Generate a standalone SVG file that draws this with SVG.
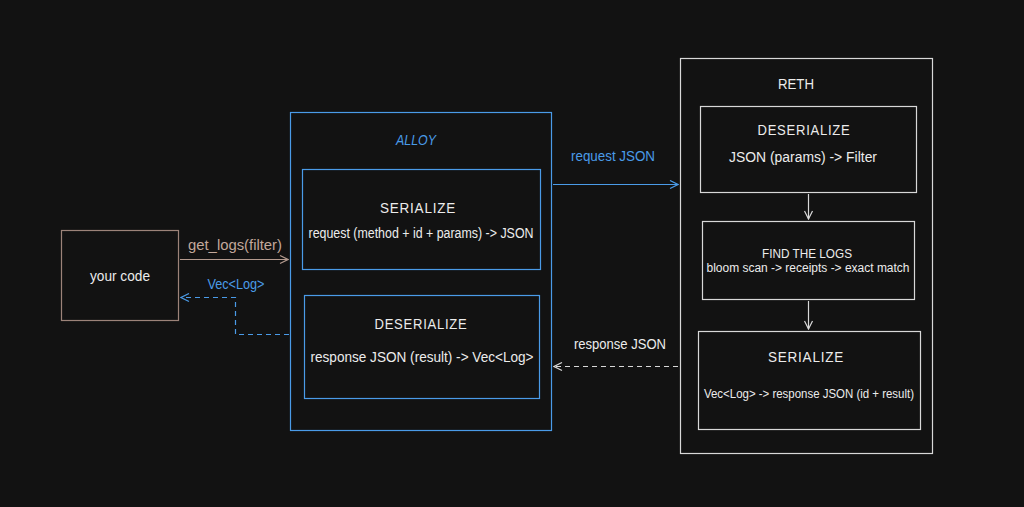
<svg xmlns="http://www.w3.org/2000/svg" width="1024" height="507" viewBox="0 0 1024 507">
<style>
.t{font-family:"Liberation Sans",sans-serif;font-size:14px;fill:#ececec;text-anchor:middle}
.h{font-size:14px;letter-spacing:0.8px}
.s{font-size:12px}
.blue{fill:#4a9be8}
.tan{fill:#c2a89b}
.box{fill:#121212;stroke-width:1.2}
.bb{stroke:#4a9be8}
.wb{stroke:#d8d8d8}
.brb{stroke:#9c8379}
</style>
<defs>
<marker id="ab" markerWidth="10" markerHeight="10" refX="9" refY="5" orient="auto" markerUnits="userSpaceOnUse"><path d="M1,1 L9,5 L1,9" fill="none" stroke="#4a9be8" stroke-width="1.2"/></marker>
<marker id="aw" markerWidth="10" markerHeight="10" refX="9" refY="5" orient="auto" markerUnits="userSpaceOnUse"><path d="M1,1 L9,5 L1,9" fill="none" stroke="#d8d8d8" stroke-width="1.2"/></marker>
<marker id="at" markerWidth="10" markerHeight="10" refX="9" refY="5" orient="auto" markerUnits="userSpaceOnUse"><path d="M1,1 L9,5 L1,9" fill="none" stroke="#b39a8e" stroke-width="1.2"/></marker>
</defs>
<rect width="1024" height="507" fill="#121212"/>

<g id="your-code">
<rect class="box brb" x="61.5" y="230.5" width="117" height="90"/>
<text class="t" x="120" y="281" textLength="60" lengthAdjust="spacingAndGlyphs">your code</text>
</g>

<g id="alloy">
<rect class="box bb" x="290.5" y="112.5" width="261" height="318" stroke-width="1.5"/>
<text class="t blue" x="416" y="145" font-style="italic" textLength="40" lengthAdjust="spacingAndGlyphs">ALLOY</text>
</g>
<g id="alloy-serialize">
<rect class="box bb" x="302.5" y="169.5" width="238" height="100"/>
<text class="t h" x="418" y="213" textLength="76" lengthAdjust="spacingAndGlyphs">SERIALIZE</text>
<text class="t" x="421" y="238" textLength="225" lengthAdjust="spacingAndGlyphs">request (method + id + params) -&gt; JSON</text>
</g>
<g id="alloy-deserialize">
<rect class="box bb" x="304.5" y="295.5" width="235" height="103"/>
<text class="t h" x="421" y="329" textLength="93" lengthAdjust="spacingAndGlyphs">DESERIALIZE</text>
<text class="t" x="422" y="362" textLength="223" lengthAdjust="spacingAndGlyphs">response JSON (result) -&gt; Vec&lt;Log&gt;</text>
</g>

<g id="reth">
<rect class="box wb" x="680.5" y="58.5" width="252" height="395" stroke-width="1.5"/>
<text class="t" x="796" y="89" textLength="36" lengthAdjust="spacingAndGlyphs">RETH</text>
</g>
<g id="reth-deserialize">
<rect class="box wb" x="700.5" y="106.5" width="216" height="86"/>
<text class="t h" x="804" y="135" textLength="93" lengthAdjust="spacingAndGlyphs">DESERIALIZE</text>
<text class="t" x="803" y="162" textLength="148" lengthAdjust="spacingAndGlyphs">JSON (params) -&gt; Filter</text>
</g>
<g id="find-logs">
<rect class="box wb" x="702.5" y="221.5" width="212" height="78"/>
<text class="t s" x="807" y="258" textLength="90" lengthAdjust="spacingAndGlyphs">FIND THE LOGS</text>
<text class="t s" x="808" y="272" textLength="203" lengthAdjust="spacingAndGlyphs">bloom scan -&gt; receipts -&gt; exact match</text>
</g>
<g id="reth-serialize">
<rect class="box wb" x="698.5" y="331.5" width="222" height="98"/>
<text class="t h" x="806" y="362" textLength="76" lengthAdjust="spacingAndGlyphs">SERIALIZE</text>
<text class="t s" x="809" y="398" textLength="210" lengthAdjust="spacingAndGlyphs">Vec&lt;Log&gt; -&gt; response JSON (id + result)</text>
</g>

<g id="connectors" fill="none" stroke-width="1.2">
<path d="M180,259.5 H288" stroke="#b39a8e" marker-end="url(#at)"/>
<path d="M289,334.5 H235.5 V297.5 H181" stroke="#4a9be8" stroke-dasharray="5,4" marker-end="url(#ab)"/>
<path d="M553,184.5 H678" stroke="#4a9be8" marker-end="url(#ab)"/>
<path d="M678,366.5 H554" stroke="#d8d8d8" stroke-dasharray="5,4" marker-end="url(#aw)"/>
<path d="M808.5,194 V219" stroke="#d8d8d8" marker-end="url(#aw)"/>
<path d="M808.5,301 V329" stroke="#d8d8d8" marker-end="url(#aw)"/>
</g>
<g id="labels">
<text class="t tan" x="235" y="250" textLength="94" lengthAdjust="spacingAndGlyphs">get_logs(filter)</text>
<text class="t blue" x="236" y="289" textLength="57" lengthAdjust="spacingAndGlyphs">Vec&lt;Log&gt;</text>
<text class="t blue" x="613" y="161" textLength="84" lengthAdjust="spacingAndGlyphs">request JSON</text>
<text class="t" x="620" y="349" textLength="92" lengthAdjust="spacingAndGlyphs">response JSON</text>
</g>
</svg>
